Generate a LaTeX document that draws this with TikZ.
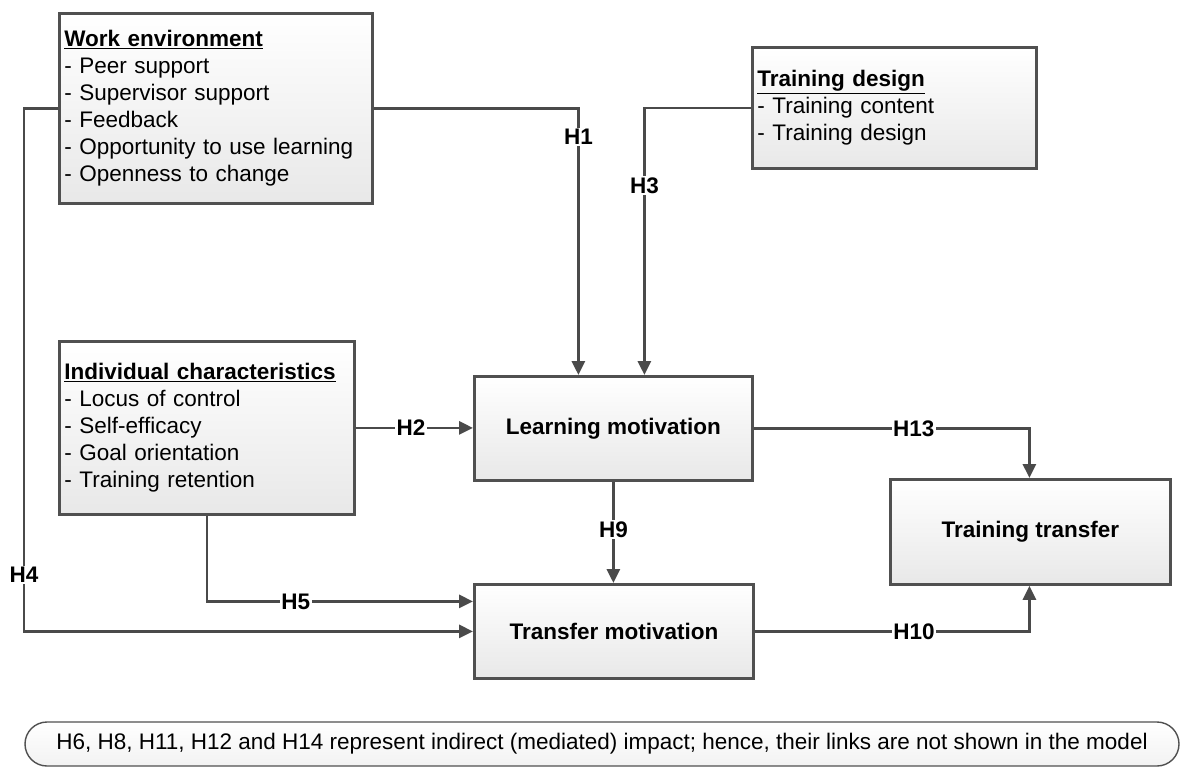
\documentclass[tikz,border=0pt]{standalone}
\usepackage{fontspec}
\setmainfont{Liberation Sans}
\usetikzlibrary{arrows.meta,shadows,calc}
\definecolor{linegray}{HTML}{4A4A4A}
\definecolor{boxgray}{HTML}{505050}

\begin{document}
\begin{tikzpicture}[x=1pt,y=-1pt,
  font=\fontsize{22.5}{27}\selectfont,
  box/.style={draw=boxgray, line width=2.8pt, top color=white, bottom color=black!9,
    drop shadow={shadow xshift=2pt, shadow yshift=-2pt, opacity=0.25, fill=black}},
  listbox/.style={box, anchor=north west, align=left, inner xsep=5pt, inner ysep=0pt},
  mainbox/.style={box, anchor=north west, align=center, inner sep=0pt,
    font=\fontsize{22.5}{27}\selectfont\bfseries},
  link/.style={draw=linegray, line width=2.8pt, -{Triangle[length=14pt,width=13pt]}},
  lbl/.style={fill=white, inner sep=1.5pt, text=black,
    font=\fontsize{22.5}{27}\selectfont\bfseries},
  note/.style={draw=boxgray, line width=1.4pt, rounded corners=22pt,
    top color=white, bottom color=black!5, inner sep=0pt},
]
\useasboundingbox (0,0) rectangle (1182,769);

% factor boxes
\node[listbox, text width=303pt, minimum height=190pt] (we) at (58,12)
  {\underline{\textbf{Work environment}}\\- Peer support\\- Supervisor support\\- Feedback\\- Opportunity to use learning\\- Openness to change};
\node[listbox, text width=274pt, minimum height=121pt] (td) at (751,46)
  {\underline{\textbf{Training design}}\\- Training content\\- Training design};
\node[listbox, text width=285pt, minimum height=173pt] (ic) at (58,340)
  {\underline{\textbf{Individual characteristics}}\\- Locus of control\\- Self-efficacy\\- Goal orientation\\- Training retention};

% outcome boxes
\node[mainbox, minimum width=278pt, minimum height=104pt] (lm) at (473,375) {Learning motivation};
\node[mainbox, minimum width=279pt, minimum height=94pt] (tm) at (473,583) {Transfer motivation};
\node[mainbox, minimum width=280pt, minimum height=105pt] (tt) at (889,478) {Training transfer};

% hypotheses
\draw[link] (we.east) -| node[lbl, pos=0.554] (h1) {H1} ([xshift=-35pt]lm.north);
\draw[link] (td.west) -| node[lbl, pos=0.645] (h3) {H3} ([xshift=31pt]lm.north);
\draw[link] (ic.east) -- node[lbl, pos=0.47] (h2) {H2} (ic.east -| lm.west);
\draw[link] (lm.east) -| node[lbl, pos=0.29] (h13) {H13} ([xshift=-1pt]tt.north);
\draw[link] (tm.east) -| node[lbl, pos=0.29] (h10) {H10} ([xshift=-1pt]tt.south);
\draw[link] (lm.south) -- node[lbl, pos=0.47] (h9) {H9} (lm.south |- tm.north);
\draw[link] (ic.south) |- node[lbl, pos=0.667] (h5) {H5} ([yshift=30pt]tm.west);
\coordinate (h4pt) at (24,575);
\draw[link] (we.west) -| (h4pt) |- (tm.west);
\node[lbl] (h4) at (h4pt) {H4};

% footnote
\node[note, minimum width=1154pt, minimum height=44pt] (fn) at (602,744)
  {H6, H8, H11, H12 and H14 represent indirect (mediated) impact; hence, their links are not shown in the model};
\end{tikzpicture}
\end{document}
